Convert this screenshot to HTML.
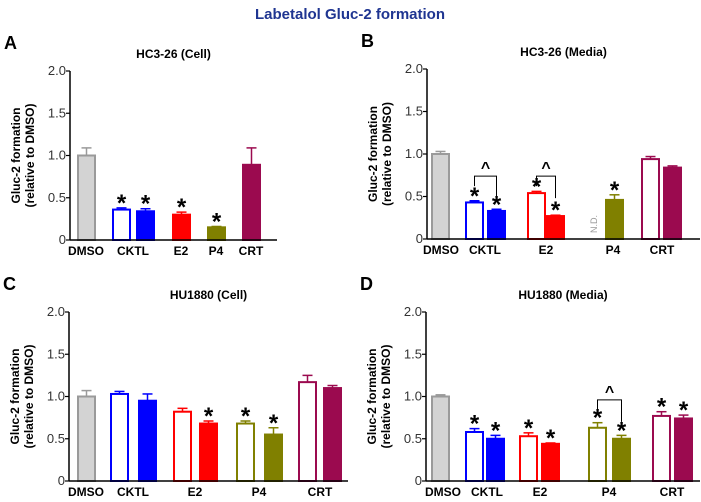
<!DOCTYPE html>
<html><head><meta charset="utf-8"><style>
html,body{margin:0;padding:0;background:#fff;}
svg{display:block;font-family:"Liberation Sans",Arial,sans-serif;}
</style></head><body>
<svg id="fig" width="701" height="502" viewBox="0 0 701 502">
<text x="350" y="19" text-anchor="middle" font-size="15" font-weight="bold" fill="#1f3591">Labetalol Gluc-2 formation</text>
</svg>
<script>
// ---- data ----
const categories = ["DMSO","CKTL","E2","P4","CRT"];
const yTicks = [0, 0.5, 1.0, 1.5, 2.0];
const yTickLabels = ["0","0.5","1.0","1.5","2.0"];
// Panel A
const aValues = [1.0, 0.36, 0.34, 0.30, 0.15, 0.89];
const aErrors = [0.09, 0.02, 0.03, 0.03, 0.01, 0.20];
const aStars  = [0, 1, 1, 1, 1, 0];
// Panel B
const bValues = [1.0, 0.43, 0.33, 0.54, 0.27, 0.46, 0.94, 0.84];
const bErrors = [0.03, 0.02, 0.02, 0.02, 0.01, 0.06, 0.03, 0.02];
const bStars  = [0, 1, 1, 1, 1, 1, 0, 0];
// Panel C
const cValues = [1.0, 1.03, 0.95, 0.82, 0.68, 0.68, 0.55, 1.17, 1.10];
const cErrors = [0.07, 0.03, 0.08, 0.04, 0.03, 0.03, 0.08, 0.08, 0.03];
const cStars  = [0, 0, 0, 0, 1, 1, 1, 0, 0];
// Panel D
const dValues = [1.0, 0.58, 0.50, 0.53, 0.44, 0.63, 0.50, 0.77, 0.74];
const dErrors = [0.02, 0.04, 0.04, 0.04, 0.01, 0.06, 0.04, 0.05, 0.04];
const dStars  = [0, 1, 1, 1, 1, 1, 1, 1, 1];

const COL = {g:"#d3d3d3", b:"#0000ff", r:"#ff0000", o:"#808000", m:"#9b0a4f"};
const GSTROKE = "#9a9a9a";
const NS = "http://www.w3.org/2000/svg";
const svg = document.getElementById("fig");

function mk(tag, attrs, parent){
  const e = document.createElementNS(NS, tag);
  for (const k in attrs) e.setAttribute(k, attrs[k]);
  (parent||svg).appendChild(e);
  return e;
}

function drawPanel(p){
  const g = mk("g", {});
  
  
  const y = v => p.y0 - (v / 2.0) * (p.y0 - p.y2);
  const L = mk("text", {x:p.ax-66, y:p.y2-22, "font-size":18, "font-weight":"bold"}, g);
  L.textContent = p.letter;
  
  
  const T = mk("text", {x:(p.ax+p.axEnd)/2, y:p.y2-13, "text-anchor":"middle", "font-size":12, "font-weight":"bold"}, g);
  T.textContent = p.title;
  
  
  const yc = (p.y0+p.y2)/2;
  const yt = mk("text", {transform:`translate(${p.ax-50},${yc}) rotate(-90)`, "text-anchor":"middle", "font-size":12, "font-weight":"bold"}, g);
  yt.textContent = "Gluc-2 formation";
  
  
  const yt2 = mk("text", {transform:`translate(${p.ax-36},${yc}) rotate(-90)`, "text-anchor":"middle", "font-size":12, "font-weight":"bold"}, g);
  yt2.textContent = "(relative to DMSO)";
  
  
  const ya = mk("line", {x1:p.ax, y1:p.y2, x2:p.ax, y2:p.y0, stroke:"#000", "stroke-width":1.5}, g);
  
  
  yTicks.forEach((t,i)=>{
    const tk = mk("line", {x1:p.ax-4, y1:y(t), x2:p.ax, y2:y(t), stroke:"#000", "stroke-width":1.2}, g);
    
    
    const tl = mk("text", {x:p.ax-4, y:y(t)+4, "text-anchor":"end", "font-size":13, fill:"#333"}, g);
    tl.textContent = yTickLabels[i];
    
    
  });
  p.values.forEach((v,i)=>{
    const x = p.xs[i], w = 19, c = COL[p.cols[i]], open = p.open[i];
    const stroke = p.cols[i]==="g" ? GSTROKE : c;
    const top = y(v), eTop = y(v + p.errors[i]);
    const eb = mk("line", {x1:x+w/2, y1:eTop, x2:x+w/2, y2:top, stroke:stroke, "stroke-width":1.5}, g);
    
    
    const ec = mk("line", {x1:x+w/2-5, y1:eTop, x2:x+w/2+5, y2:eTop, stroke:stroke, "stroke-width":1.5}, g);
    
    
    const r = mk("rect", {x:x+1, y:top, width:w-2, height:p.y0-top, fill: open?"#fff":c, stroke:stroke, "stroke-width":2}, g);
    
    
    if (p.stars[i]) {
      const s = mk("text", {x:x+w/2, y:eTop+3, "text-anchor":"middle", "font-size":24, "font-weight":"bold"}, g);
      s.textContent = "*";
      
      
    }
  });
  const xa = mk("line", {x1:p.ax, y1:p.y0, x2:p.axEnd, y2:p.y0, stroke:"#000", "stroke-width":1.5}, g);
  
  
  categories.forEach((c,i)=>{
    const cl = mk("text", {x:p.labelX[i], y:p.y0+15, "text-anchor":"middle", "font-size":12, "font-weight":"bold"}, g);
    cl.textContent = c;
    
    
  });
  (p.brackets||[]).forEach(b=>{
    const x1 = p.xs[b[0]]+9.5, x2 = p.xs[b[1]]+9.5;
    const by = y(b[2]);
    const br = mk("path", {d:`M${x1},${by+10} V${by} H${x2} V${by+22}`, fill:"none", stroke:"#000", "stroke-width":1}, g);
    
    
    const ca = mk("text", {x:(x1+x2)/2, y:by-3, "text-anchor":"middle", "font-size":16, "font-weight":"bold"}, g);
    ca.textContent = "^";
    
    
  });
  if (p.nd) {
    const nd = mk("text", {transform:`translate(${p.nd[0]},${p.nd[1]}) rotate(-90)`, "font-size":9, fill:"#999"}, g);
    nd.textContent = "N.D.";
    
    
  }
}

drawPanel({name:"panel-a", letter:"A", title:"HC3-26 (Cell)", ax:70, axEnd:277, y0:240, y2:71,
  xs:[77,112,136,172,207,242], cols:["g","b","b","r","o","m"], open:[0,1,0,0,0,0],
  barNames:["dmso","cktl-open","cktl","e2","p4","crt"],
  values:aValues, errors:aErrors, stars:aStars, labelX:[86,133,181,216,251]});
drawPanel({name:"panel-b", letter:"B", title:"HC3-26 (Media)", ax:427, axEnd:700, y0:239, y2:69,
  xs:[431,465,487,527,546,605,641,663], cols:["g","b","b","r","r","o","m","m"], open:[0,1,0,1,0,0,1,0],
  barNames:["dmso","cktl-open","cktl","e2-open","e2","p4","crt-open","crt"],
  values:bValues, errors:bErrors, stars:bStars, labelX:[441,485,546,613,662],
  brackets:[[1,2,0.74],[3,4,0.74]], nd:[597,233]});
drawPanel({name:"panel-c", letter:"C", title:"HU1880 (Cell)", ax:69, axEnd:348, y0:481, y2:312,
  xs:[77,110,138,173,199,236,264,298,323], cols:["g","b","b","r","r","o","o","m","m"], open:[0,1,0,1,0,1,0,1,0],
  barNames:["dmso","cktl-open","cktl","e2-open","e2","p4-open","p4","crt-open","crt"],
  values:cValues, errors:cErrors, stars:cStars, labelX:[86,133,195,259,320]});
drawPanel({name:"panel-d", letter:"D", title:"HU1880 (Media)", ax:426, axEnd:700, y0:481, y2:312,
  xs:[431,465,486,519,541,588,612,652,674], cols:["g","b","b","r","r","o","o","m","m"], open:[0,1,0,1,0,1,0,1,0],
  barNames:["dmso","cktl-open","cktl","e2-open","e2","p4-open","p4","crt-open","crt"],
  values:dValues, errors:dErrors, stars:dStars, labelX:[443,487,540,609,672],
  brackets:[[5,6,0.96]]});
</script>
</body></html>
